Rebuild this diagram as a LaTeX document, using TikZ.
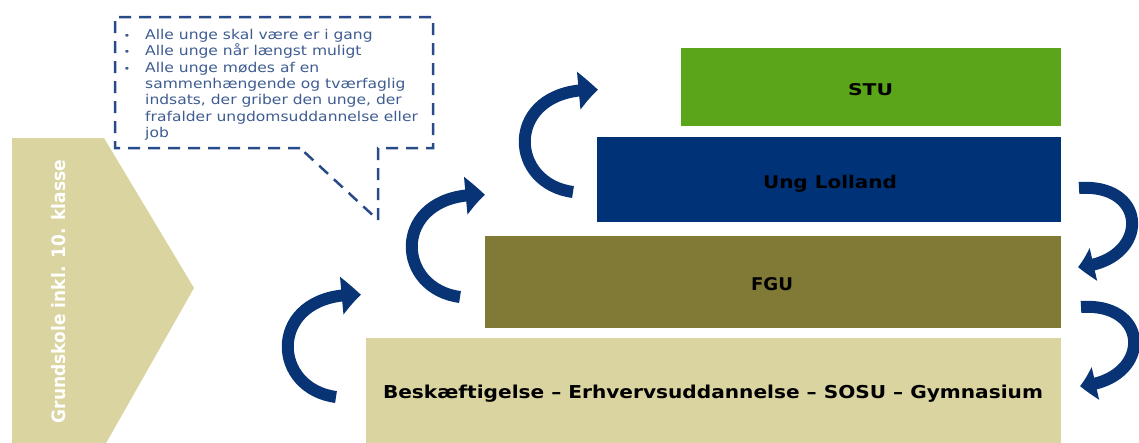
\documentclass[tikz,border=0pt]{standalone}
\usepackage{fontspec}
\usepackage{graphicx}
\setmainfont{DejaVu Sans}
\newfontfamily\calloutfont{DejaVu Sans}[FakeStretch=1.15]
\usetikzlibrary{arrows.meta,bending}
\definecolor{stugreen}{RGB}{90,165,25}
\definecolor{ungblue}{RGB}{0,50,120}
\definecolor{fguolive}{RGB}{128,122,54}
\definecolor{tanbox}{RGB}{217,212,160}
\definecolor{arrowblue}{RGB}{8,52,118}
\definecolor{dashblue}{RGB}{40,75,135}
\definecolor{callouttext}{RGB}{62,92,145}
\tikzset{
  levelbox/.style={inner sep=0, outer sep=0, draw=none, anchor=north west},
  lbl/.style={inner sep=0, anchor=base, text=black, font=\bfseries},
  leftarrow/.style={draw=arrowblue, line width=12pt, -{Triangle[length=20pt,width=36pt,bend]}},
  rightarrow/.style={draw=arrowblue, line width=12pt, -{Triangle[length=16pt,width=32pt,bend]}},
  calloutline/.style={draw=dashblue, line width=2.5pt, dash pattern=on 12pt off 8pt},
}
\begin{document}
\begin{tikzpicture}[x=1pt,y=-1pt]
\useasboundingbox (0,0) rectangle (1139,442);
\clip (0,0) rectangle (1139,442);
% level boxes
\node[levelbox, fill=stugreen, minimum width=380pt, minimum height=78pt] (stu) at (681,48) {};
\node[levelbox, fill=ungblue, minimum width=464pt, minimum height=85pt] (ung) at (597,137) {};
\node[levelbox, fill=fguolive, minimum width=576pt, minimum height=92pt] (fgu) at (485,236) {};
\node[levelbox, fill=tanbox, minimum width=695pt, minimum height=120pt] (besk) at (366,338) {};
\node[lbl] (stuL) at (870.5,95) {\resizebox{45pt}{12pt}{STU}};
\node[lbl] (ungL) at (830,188) {\resizebox{134pt}{13.3pt}{Ung Lolland}};
\node[lbl] (fguL) at (772,290) {\resizebox{42pt}{13pt}{FGU}};
\node[lbl] (beskL) at (713,398) {\resizebox{660pt}{13.5pt}{Beskæftigelse – Erhvervsuddannelse – SOSU – Gymnasium}};
% pentagon
\fill[tanbox] (12,138) -- (104,138) -- (194,288) -- (105,445) -- (12,445) -- cycle;
\node[rotate=90, inner sep=0, text=white, font=\bfseries] (gk) at (59,291.5) {\resizebox{263pt}{14pt}{Grundskole inkl. 10. klasse}};
% callout
\draw[calloutline] (300,148) -- (115,148) -- (115,17) -- (433,17) -- (433,148) -- (378,148) -- (378,220) -- cycle;
\node[anchor=base west, inner sep=0, text=callouttext, font=\calloutfont\fontsize{13.5pt}{16.33pt}\selectfont] (ctext) at (122,39) {%
\begin{tabular}[t]{@{}p{23pt}@{}l@{}}
\hspace{1.5pt}{\fontsize{10pt}{10pt}\selectfont •}&Alle unge skal være er i gang\\
\hspace{1.5pt}{\fontsize{10pt}{10pt}\selectfont •}&Alle unge når længst muligt\\
\hspace{1.5pt}{\fontsize{10pt}{10pt}\selectfont •}&Alle unge mødes af en\\
&sammenhængende og tværfaglig\\
&indsats, der griber den unge, der\\
&frafalder ungdomsuddannelse eller\\
&job
\end{tabular}};
% left curved arrows
\coordinate (a1s) at (336,397); \coordinate (a1a) at (268,388); \coordinate (a1b) at (268,290); \coordinate (a1e) at (361,295);
\coordinate (a2s) at (460,297); \coordinate (a2a) at (392,288); \coordinate (a2b) at (392,190); \coordinate (a2e) at (485,195);
\coordinate (a3s) at (573,192); \coordinate (a3a) at (505,183); \coordinate (a3b) at (505,85); \coordinate (a3e) at (598,90);
\draw[leftarrow] (a1s) .. controls (a1a) and (a1b) .. (a1e);
\draw[leftarrow] (a2s) .. controls (a2a) and (a2b) .. (a2e);
\draw[leftarrow] (a3s) .. controls (a3a) and (a3b) .. (a3e);
% right curved arrows
\coordinate (b1s) at (1079,188); \coordinate (b1a) at (1150,183); \coordinate (b1b) at (1150,262); \coordinate (b1e) at (1078,267);
\coordinate (b2s) at (1081,307); \coordinate (b2a) at (1152,302); \coordinate (b2b) at (1152,381); \coordinate (b2e) at (1080,386);
\draw[rightarrow] (b1s) .. controls (b1a) and (b1b) .. (b1e);
\draw[rightarrow] (b2s) .. controls (b2a) and (b2b) .. (b2e);
\end{tikzpicture}
\end{document}
